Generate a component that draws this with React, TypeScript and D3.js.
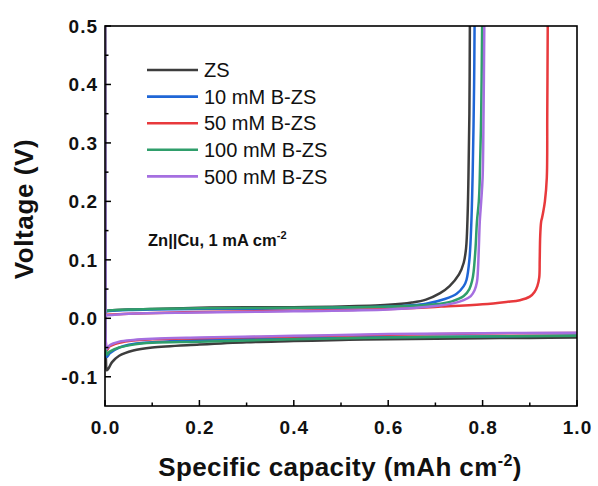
import React from "react";
import * as d3 from "d3";

const W = 598, H = 486;
const M = { left: 105, right: 21, top: 26, bottom: 80 };

const xTicks = [0, 0.2, 0.4, 0.6, 0.8, 1.0];
const xMinor = [0.1, 0.3, 0.5, 0.7, 0.9];
const yTicks = [-0.1, 0, 0.1, 0.2, 0.3, 0.4, 0.5];
const yMinor = [-0.05, 0.05, 0.15, 0.25, 0.35, 0.45];

const seriesNames = ["ZS", "10 mM B-ZS", "50 mM B-ZS", "100 mM B-ZS", "500 mM B-ZS"];
const seriesColors = ["#3d3d3d", "#1f66d6", "#e8393c", "#2f9e6b", "#a56fe0"];

// plating (discharge) branch: capacity, voltage
const zsDisC = [0, 0.001, 0.002, 0.004, 0.008, 0.015, 0.03, 0.06, 0.1, 0.2, 0.3, 0.4, 0.5, 0.6, 0.7, 0.8, 0.9, 1.0];
const zsDisV = [0.5, 0.1, -0.07, -0.089, -0.085, -0.075, -0.064, -0.055, -0.05, -0.045, -0.041, -0.039, -0.037, -0.036, -0.035, -0.034, -0.0335, -0.033];
const b10DisC = [0, 0.001, 0.002, 0.004, 0.01, 0.03, 0.06, 0.1, 0.2, 0.4, 0.6, 0.8, 1.0];
const b10DisV = [0.5, 0.1, -0.055, -0.066, -0.06, -0.05, -0.044, -0.041, -0.037, -0.034, -0.032, -0.031, -0.0295];
const b50DisC = [0, 0.001, 0.002, 0.004, 0.01, 0.03, 0.06, 0.1, 0.2, 0.4, 0.6, 0.8, 1.0];
const b50DisV = [0.5, 0.1, -0.045, -0.055, -0.048, -0.042, -0.038, -0.036, -0.034, -0.031, -0.028, -0.026, -0.025];
const b100DisC = [0, 0.001, 0.002, 0.004, 0.01, 0.03, 0.06, 0.1, 0.2, 0.4, 0.6, 0.8, 1.0];
const b100DisV = [0.5, 0.1, -0.052, -0.062, -0.057, -0.05, -0.045, -0.042, -0.04, -0.036, -0.033, -0.031, -0.030];
const b500DisC = [0, 0.001, 0.002, 0.004, 0.01, 0.03, 0.06, 0.1, 0.2, 0.4, 0.6, 0.8, 1.0];
const b500DisV = [0.5, 0.1, -0.043, -0.052, -0.046, -0.04, -0.037, -0.035, -0.033, -0.03, -0.027, -0.0255, -0.0245];

// stripping (charge) branch: capacity, voltage
const zsChC = [0, 0.005, 0.05, 0.1, 0.2, 0.3, 0.4, 0.5, 0.6, 0.65, 0.68, 0.71, 0.73, 0.75, 0.76, 0.765, 0.768, 0.770, 0.772, 0.773];
const zsChV = [0.011, 0.013, 0.015, 0.016, 0.018, 0.019, 0.019, 0.02, 0.023, 0.027, 0.032, 0.043, 0.055, 0.075, 0.095, 0.12, 0.17, 0.24, 0.35, 0.5];
const b10ChC = [0, 0.005, 0.05, 0.1, 0.2, 0.4, 0.6, 0.68, 0.72, 0.745, 0.76, 0.766, 0.772, 0.776, 0.779, 0.782, 0.783];
const b10ChV = [0.01, 0.012, 0.014, 0.015, 0.016, 0.017, 0.02, 0.025, 0.033, 0.042, 0.055, 0.066, 0.1, 0.16, 0.25, 0.4, 0.5];
const b50ChC = [0, 0.05, 0.2, 0.4, 0.6, 0.712, 0.8, 0.85, 0.879, 0.9, 0.91, 0.916, 0.92, 0.921, 0.922, 0.924, 0.926, 0.928, 0.932, 0.936, 0.937, 0.938];
const b50ChV = [0.006, 0.008, 0.011, 0.013, 0.016, 0.02, 0.024, 0.028, 0.031, 0.037, 0.045, 0.055, 0.07, 0.1, 0.14, 0.165, 0.172, 0.18, 0.2, 0.24, 0.35, 0.5];
const b100ChC = [0, 0.005, 0.05, 0.1, 0.2, 0.4, 0.6, 0.7, 0.735, 0.76, 0.772, 0.778, 0.781, 0.785, 0.788, 0.792, 0.794, 0.797, 0.799];
const b100ChV = [0.011, 0.013, 0.015, 0.016, 0.017, 0.018, 0.02, 0.024, 0.029, 0.038, 0.05, 0.065, 0.08, 0.12, 0.165, 0.2, 0.24, 0.35, 0.5];
const b500ChC = [0, 0.05, 0.2, 0.4, 0.6, 0.7, 0.74, 0.76, 0.775, 0.783, 0.788, 0.790, 0.792, 0.794, 0.797, 0.800, 0.802, 0.8036];
const b500ChV = [0.005, 0.008, 0.010, 0.012, 0.015, 0.021, 0.026, 0.031, 0.038, 0.048, 0.062, 0.08, 0.12, 0.165, 0.2, 0.24, 0.35, 0.5];

const discharge = [
  [zsDisC, zsDisV], [b10DisC, b10DisV], [b50DisC, b50DisV], [b100DisC, b100DisV], [b500DisC, b500DisV],
];
const charge = [
  [zsChC, zsChV], [b10ChC, b10ChV], [b50ChC, b50ChV], [b100ChC, b100ChV], [b500ChC, b500ChV],
];

export default function App() {
  const x = d3.scaleLinear().domain([0, 1]).range([M.left, W - M.right]);
  const y = d3.scaleLinear().domain([-0.15, 0.5]).range([H - M.bottom, M.top]);
  const line = d3
    .line<[number, number]>()
    .x((d) => x(d[0]))
    .y((d) => y(d[1]))
    .curve(d3.curveCatmullRom.alpha(0.5));
  const toPts = (c: number[], v: number[]) => c.map((ci, i) => [ci, v[i]] as [number, number]);
  const font = "Arial, 'Liberation Sans', Helvetica, sans-serif";
  const x0 = M.left, x1 = W - M.right, y0 = M.top, y1 = H - M.bottom;

  return (
    <svg width={W} height={H} style={{ display: "block", position: "absolute", left: 0, top: 0, background: "#fff" }} fontFamily={font}>
      <defs>
        <clipPath id="plot">
          <rect x={x0} y={y0} width={x1 - x0} height={y1 - y0} />
        </clipPath>
      </defs>
      <rect width={W} height={H} fill="#fff" />
      <g clipPath="url(#plot)" fill="none" strokeWidth={2.5} strokeLinejoin="round">
        {seriesNames.map((n, i) => (
          <g key={n}>
            <path d={line(toPts(discharge[i][0], discharge[i][1])) || ""} stroke={seriesColors[i]} />
            <path d={line(toPts(charge[i][0], charge[i][1])) || ""} stroke={seriesColors[i]} />
          </g>
        ))}
      </g>
      <rect x={x0} y={y0} width={x1 - x0} height={y1 - y0} fill="none" stroke="#000" strokeWidth={1.6} />
      {/* x ticks */}
      {xTicks.map((t) => (
        <g key={"xt" + t}>
          <line x1={x(t)} x2={x(t)} y1={y1} y2={y1 - 6} stroke="#000" strokeWidth={1.5} />
          <text x={x(t) + 0.5} y={434} textAnchor="middle" fontSize={19} fontWeight="bold" letterSpacing={1} fill="#111">
            {t.toFixed(1)}
          </text>
        </g>
      ))}
      {xMinor.map((t) => (
        <line key={"xm" + t} x1={x(t)} x2={x(t)} y1={y1} y2={y1 - 3.5} stroke="#000" strokeWidth={1.5} />
      ))}
      {/* y ticks */}
      {yTicks.map((t) => (
        <g key={"yt" + t}>
          <line x1={x0} x2={x0 + 6} y1={y(t)} y2={y(t)} stroke="#000" strokeWidth={1.5} />
          <text x={98} y={y(t)} dy="0.36em" textAnchor="end" fontSize={19} fontWeight="bold" letterSpacing={1} fill="#111">
            {t.toFixed(1)}
          </text>
        </g>
      ))}
      {yMinor.map((t) => (
        <line key={"ym" + t} x1={x0} x2={x0 + 3.5} y1={y(t)} y2={y(t)} stroke="#000" strokeWidth={1.5} />
      ))}
      {/* axis titles */}
      <text x={340} y={476} textAnchor="middle" fontSize={26} fontWeight="bold" letterSpacing={0.4} fill="#111">
        Specific capacity (mAh cm
        <tspan dy={-10} fontSize={16}>-2</tspan>
        <tspan dy={10}>)</tspan>
      </text>
      <text transform={`translate(33,${(y0 + y1) / 2 - 7}) rotate(-90)`} textAnchor="middle" fontSize={26} fontWeight="bold" letterSpacing={0.6} fill="#111">
        Voltage (V)
      </text>
      {/* legend */}
      {seriesNames.map((n, i) => (
        <g key={"lg" + n} transform={`translate(0,${70 + i * 26.6})`}>
          <line x1={147} x2={198} y1={0} y2={0} stroke={seriesColors[i]} strokeWidth={2.6} />
          <text x={204} y={0} dy="0.36em" fontSize={20} fill="#111">
            {n}
          </text>
        </g>
      ))}
      <text x={148} y={246} fontSize={16.5} fontWeight="bold" fill="#111">
        Zn||Cu, 1 mA cm
        <tspan dy={-7} fontSize={11}>-2</tspan>
      </text>
    </svg>
  );
}
